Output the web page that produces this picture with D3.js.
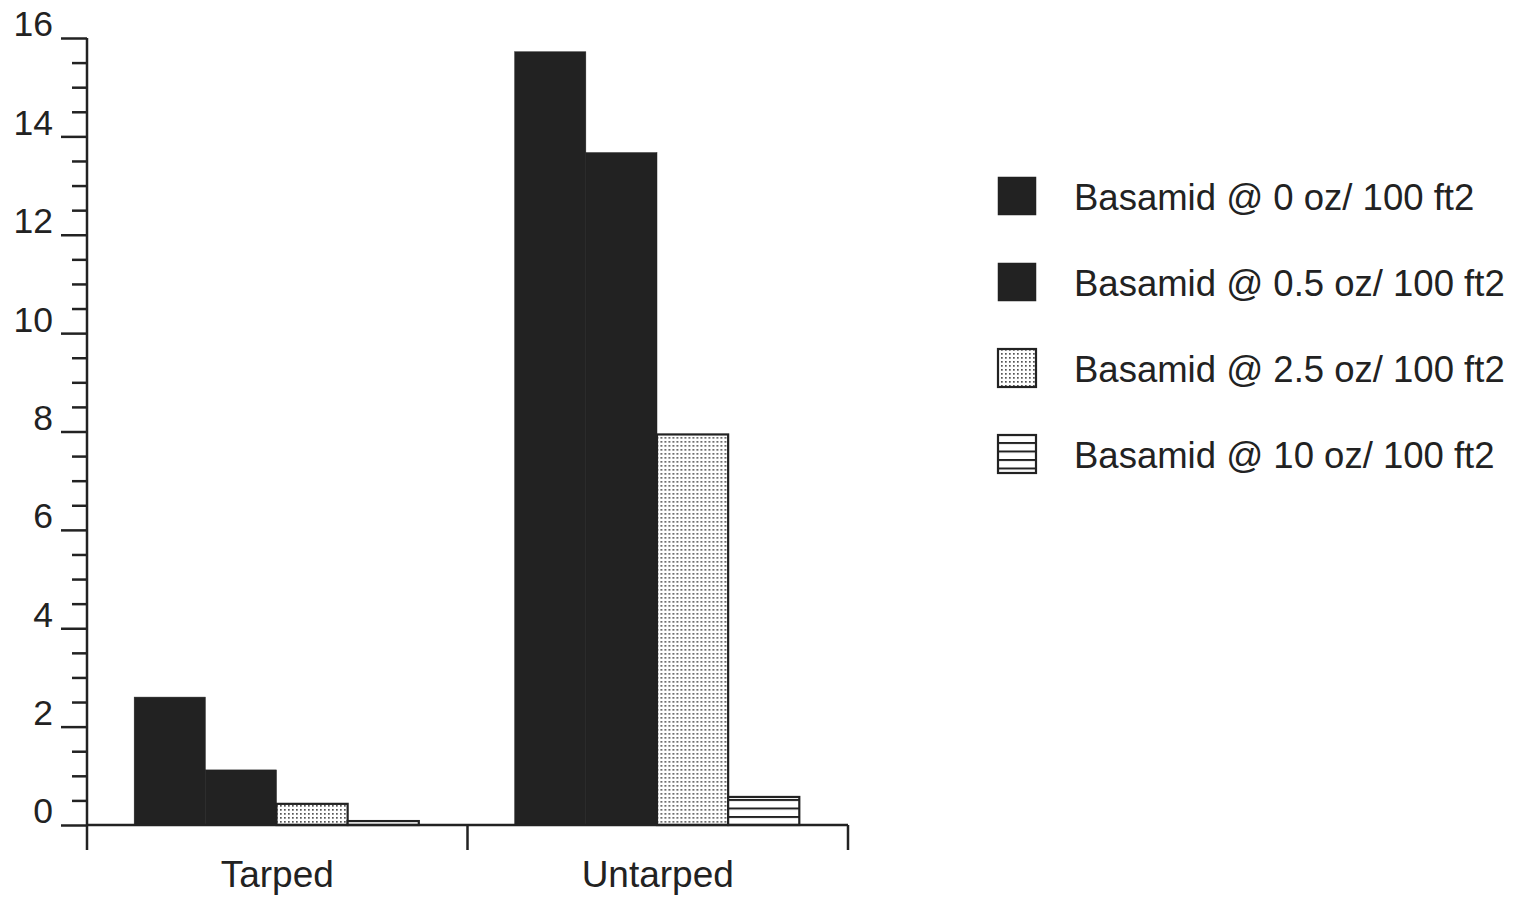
<!DOCTYPE html>
<html><head><meta charset="utf-8">
<script src="https://cdn.jsdelivr.net/npm/d3@7"></script>
<style>
html,body{margin:0;padding:0;background:#fff;}
svg{display:block;}
text{font-family:"Liberation Sans",Arial,Helvetica,sans-serif;fill:#222;}
</style></head>
<body>
<svg id="chart" width="1516" height="897"></svg>
<script>
const categories = ["Tarped", "Untarped"];
const seriesNames = ["Basamid @ 0 oz/ 100 ft2", "Basamid @ 0.5 oz/ 100 ft2", "Basamid @ 2.5 oz/ 100 ft2", "Basamid @ 10 oz/ 100 ft2"];
const tarpedValues = [2.6, 1.12, 0.43, 0.08];
const untarpedValues = [15.72, 13.67, 7.94, 0.57];
const majorTicks = [0, 2, 4, 6, 8, 10, 12, 14, 16];
const minorTicks = d3.range(0, 16.01, 0.5).filter(v => v % 2 !== 0);

const valuesByCat = {Tarped: tarpedValues, Untarped: untarpedValues};
const fills = ["#222", "#222", "url(#dots)", "url(#stripes)"];

const svg = d3.select("#chart");
const ink = "#222";

const defs = svg.append("defs");
const dots = defs.append("pattern").attr("id", "dots").attr("patternUnits", "userSpaceOnUse")
  .attr("width", 4).attr("height", 4);
dots.append("rect").attr("width", 4).attr("height", 4).attr("fill", "#fff");
dots.append("rect").attr("x", 1).attr("y", 1).attr("width", 1.7).attr("height", 1.7).attr("fill", "#555");
const stripes = defs.append("pattern").attr("id", "stripes").attr("patternUnits", "userSpaceOnUse")
  .attr("width", 8).attr("height", 8.5);
stripes.append("rect").attr("width", 8).attr("height", 8.5).attr("fill", "#fff");
stripes.append("rect").attr("x", 0).attr("y", 0).attr("width", 8).attr("height", 2).attr("fill", ink);

const y = d3.scaleLinear().domain([0, 16]).range([825, 38]);
const x0 = d3.scaleBand().domain(categories).range([87, 848]).paddingInner(0).paddingOuter(0);
const bw = x0.bandwidth();
const x1 = d3.scaleBand().domain(d3.range(seriesNames.length)).range([bw * 0.124, bw * 0.872]).padding(0);

// bars
const groups = svg.append("g").selectAll("g").data(categories).join("g")
  .attr("transform", d => `translate(${x0(d)},0)`);
groups.selectAll("rect").data(c => valuesByCat[c].map((v, i) => ({v, i}))).join("rect")
  .attr("x", d => x1(d.i))
  .attr("width", x1.bandwidth())
  .attr("y", d => y(d.v))
  .attr("height", d => y(0) - y(d.v))
  .attr("fill", d => fills[d.i])
  .attr("stroke", ink)
  .attr("stroke-width", d => d.i >= 2 ? 2.2 : 0.5);

// y axis minor
const yMinor = svg.append("g").attr("transform", "translate(87,0)")
  .call(d3.axisLeft(y).tickValues(minorTicks).tickSize(15).tickFormat(""));
yMinor.select(".domain").remove();
yMinor.selectAll("line").attr("stroke", ink).attr("stroke-width", 2.5);

const yMajor = svg.append("g").attr("transform", "translate(87,0)")
  .call(d3.axisLeft(y).tickValues(majorTicks).tickSize(26).tickPadding(8).tickFormat(d3.format("d")));
yMajor.select(".domain").remove();
yMajor.selectAll("line").attr("stroke", ink).attr("stroke-width", 2.5);
yMajor.selectAll("text").attr("font-size", 35.5).attr("dy", "-0.06em")
  .style("font-family", '"Liberation Sans", Arial, sans-serif').attr("fill", ink);

// y axis line (continues below baseline as category tick)
svg.append("line").attr("x1", 87).attr("x2", 87).attr("y1", y(16)).attr("y2", 850)
  .attr("stroke", ink).attr("stroke-width", 2.5);

// x axis baseline
svg.append("line").attr("x1", 87).attr("x2", 848).attr("y1", y(0)).attr("y2", y(0))
  .attr("stroke", ink).attr("stroke-width", 2.5);
const boundaries = categories.map(c => x0(c) + bw);
svg.append("g").selectAll("line").data(boundaries).join("line")
  .attr("x1", d => d).attr("x2", d => d).attr("y1", y(0)).attr("y2", 850)
  .attr("stroke", ink).attr("stroke-width", 2.5);

const xAxis = svg.append("g").attr("transform", `translate(0,${y(0)})`)
  .call(d3.axisBottom(x0).tickSize(0).tickPadding(0));
xAxis.select(".domain").remove();
xAxis.selectAll("text").attr("font-size", 37).attr("y", 62).attr("dy", 0)
  .style("font-family", '"Liberation Sans", Arial, sans-serif').attr("fill", ink);

// legend
const legendBaselines = [210, 296, 382, 468];
const legend = svg.append("g").selectAll("g").data(seriesNames).join("g");
legend.append("rect")
  .attr("x", 998).attr("y", (d, i) => legendBaselines[i] - 33)
  .attr("width", 38).attr("height", 38)
  .attr("fill", (d, i) => fills[i]).attr("stroke", ink).attr("stroke-width", (d, i) => i >= 2 ? 2.2 : 0.5);
legend.append("text")
  .attr("x", 1074).attr("y", (d, i) => legendBaselines[i])
  .attr("font-size", 36.5).text(d => d);
</script>
</body></html>
